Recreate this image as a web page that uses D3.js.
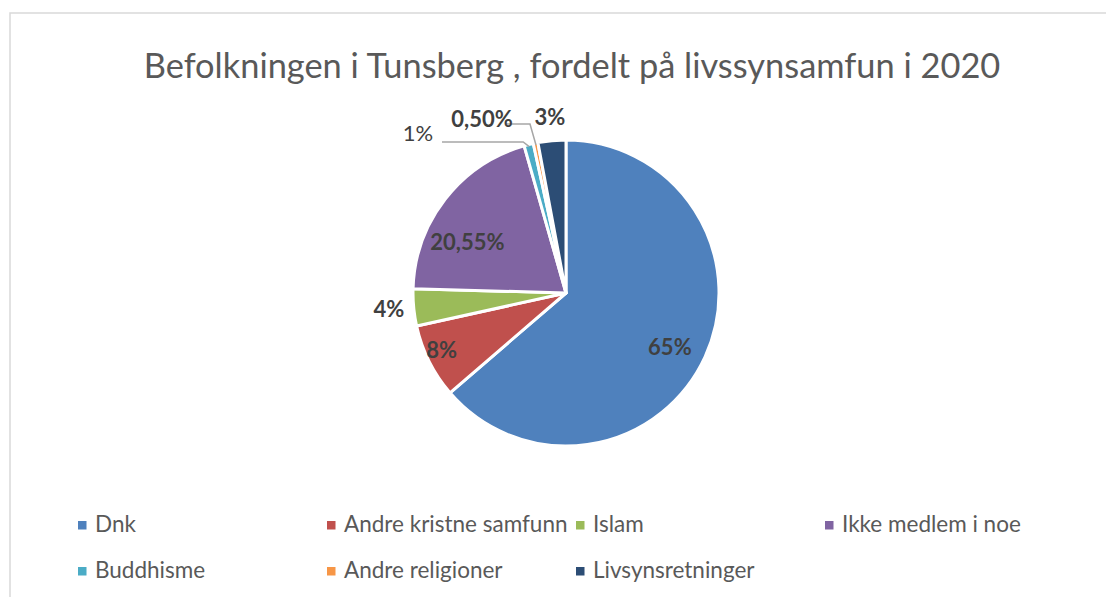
<!DOCTYPE html>
<html>

<head>
    <meta charset="utf-8">
    <title>Befolkningen i Tunsberg</title>
    <script src="https://d3js.org/d3.v7.min.js"></script>
    <style>
        body { margin: 0; background: #fff; }
        svg { font-family: Lato, "Open Sans", sans-serif; }
    </style>
</head>

<body>
    <div id="chart"></div>

    <script>
        // data
        const categories = ["Dnk", "Andre kristne samfunn", "Islam", "Ikke medlem i noe",
            "Buddhisme", "Andre religioner", "Livsynsretninger"];
        const values = [65, 8, 4, 20.55, 1, 0.5, 3];
        const labels = ["65%", "8%", "4%", "20,55%", "1%", "0,50%", "3%"];
        const colors = ["#4F81BD", "#C0504D", "#9BBB59", "#8064A2", "#4BACC6", "#F79646", "#2C4D75"];

        const W = 1106, H = 597;
        const cx = 566, cy = 293, R = 153;

        // label placement: inside (radius fraction of centroid) or outside
        const labelLayout = [
            { type: "in", r: 0.74, dx: 1, dy: 15, bold: true },
            { type: "in", r: 0.88, dx: -4, dy: 5, bold: true },
            { type: "out", r: 178, dx: 0, dy: 7, bold: true },
            { type: "in", r: 0.75, dx: -8, dy: 27, bold: true },
            { type: "leader", lx: -148, ly: -152, elbow: -151, bold: false },
            { type: "leader", lx: -84, ly: -166, elbow: -169, bold: true },
            { type: "out", r: 176, dx: 0, dy: 7, bold: true }
        ];

        const svg = d3.select("#chart")
            .append("svg")
            .attr("width", W)
            .attr("height", H);

        // chart frame
        svg.append("path")
            .attr("d", `M10,${H} V13 H${W}`)
            .attr("fill", "none")
            .attr("stroke", "#d9d9d9")
            .attr("stroke-width", 1.5);

        svg.append("text")
            .attr("x", 572)
            .attr("y", 78)
            .attr("text-anchor", "middle")
            .attr("fill", "#595959")
            .style("font-size", "34.4px")
            .text("Befolkningen i Tunsberg , fordelt på livssynsamfun i 2020");

        const pie = d3.pie().sort(null).value(d => d);
        const arcs = pie(values);
        const arc = d3.arc().innerRadius(0).outerRadius(R);

        const g = svg.append("g").attr("transform", `translate(${cx},${cy})`);

        g.selectAll("path.slice")
            .data(arcs)
            .join("path")
            .attr("class", "slice")
            .attr("d", arc)
            .attr("fill", (d, i) => colors[i])
            .attr("stroke", "#fff")
            .attr("stroke-width", 3)
            .attr("stroke-linejoin", "round");

        const mid = d => (d.startAngle + d.endAngle) / 2;

        arcs.forEach((d, i) => {
            const L = labelLayout[i];
            const a = mid(d);
            let x, y;
            if (L.type === "in") {
                const c = d3.arc().innerRadius(0).outerRadius(R * L.r * 2).centroid(d);
                x = c[0] + L.dx; y = c[1] + L.dy;
            } else if (L.type === "out") {
                x = Math.sin(a) * L.r + L.dx;
                y = -Math.cos(a) * L.r + L.dy;
            } else {
                // leader line from slice edge to label
                const px = Math.sin(a) * (R - 2), py = -Math.cos(a) * (R - 2);
                const ex = px - 6;
                g.append("polyline")
                    .attr("points", [[px, py], [ex, L.elbow], [L.lx + 24, L.elbow]].map(p => p.join(",")).join(" "))
                    .attr("fill", "none")
                    .attr("stroke", "#a6a6a6")
                    .attr("stroke-width", 1.5);
                x = L.lx; y = L.ly;
            }
            g.append("text")
                .attr("x", x)
                .attr("y", y)
                .attr("text-anchor", "middle")
                .attr("fill", "#404040")
                .style("font-size", "22px")
                .style("font-weight", L.bold ? "bold" : "normal")
                .text(labels[i]);
        });

        // legend, 4 columns
        const legend = svg.append("g");
        const colX = d3.scaleLinear().domain([0, 1]).range([78, 327]);
        const rowY = d3.scaleLinear().domain([0, 1]).range([525, 571]);

        categories.forEach((c, i) => {
            const x = colX(i % 4), y = rowY(Math.floor(i / 4));
            legend.append("rect")
                .attr("x", x)
                .attr("y", y - 4)
                .attr("width", 8.5)
                .attr("height", 8.5)
                .attr("fill", colors[i]);
            legend.append("text")
                .attr("x", x + 17)
                .attr("y", y + 7)
                .attr("fill", "#595959")
                .style("font-size", "22.5px")
                .text(c);
        });
    </script>
</body>

</html>
